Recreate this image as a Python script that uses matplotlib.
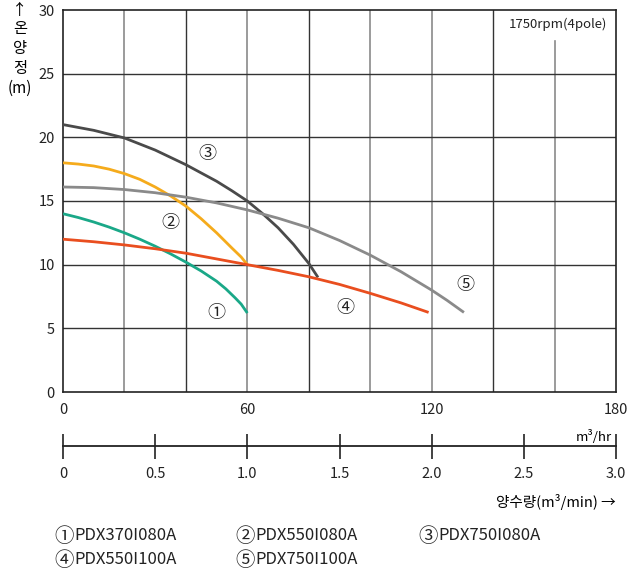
import matplotlib
matplotlib.use("Agg")
import matplotlib.pyplot as plt

plt.rcParams['font.family'] = ['Noto Sans CJK KR', 'DejaVu Sans']

# pump curves, flow in m3/hr, head in m
q1 = [0, 5, 10, 15, 20, 25, 30, 35, 40, 45, 50, 53, 56, 58, 60]
h1 = [14.0, 13.7, 13.35, 12.95, 12.5, 12.0, 11.45, 10.85, 10.2, 9.5, 8.7, 8.1, 7.4, 6.9, 6.2]
q2 = [0, 5, 10, 15, 20, 25, 30, 35, 40, 45, 50, 55, 58, 60]
h2 = [18.0, 17.9, 17.75, 17.5, 17.15, 16.7, 16.1, 15.4, 14.6, 13.6, 12.5, 11.3, 10.6, 10.0]
q3 = [0, 10, 20, 30, 40, 50, 55, 60, 65, 70, 75, 80, 83]
h3 = [21.0, 20.55, 19.95, 19.0, 17.85, 16.55, 15.8, 15.0, 14.0, 12.9, 11.6, 10.1, 9.0]
q4 = [0, 10, 20, 30, 40, 50, 60, 70, 80, 90, 100, 110, 119]
h4 = [12.0, 11.8, 11.55, 11.25, 10.9, 10.45, 10.0, 9.55, 9.05, 8.45, 7.75, 7.0, 6.25]
q5 = [0, 10, 20, 30, 40, 50, 60, 70, 80, 90, 100, 110, 120, 125, 130.5]
h5 = [16.1, 16.05, 15.9, 15.65, 15.3, 14.85, 14.3, 13.65, 12.9, 11.9, 10.75, 9.45, 8.0, 7.2, 6.25]

labels = ['①', '②', '③', '④', '⑤']
label_pos = [(50, 6.2), (35, 13.3), (47, 18.7), (92, 6.6), (131, 8.4)]
models = ['PDX370I080A', 'PDX550I080A', 'PDX750I080A',
          'PDX550I100A', 'PDX750I100A']
colors = ['#1aa888', '#f5ab1c', '#4a4a4a', '#e94e1f', '#8a8a8a']

fig = plt.figure(figsize=(6.37, 5.78), dpi=100)
ax = fig.add_axes([63/637, 186/578, 553/637, 382/578])

# grid
for x in [20, 60, 100, 120, 160]:
    ax.axvline(x, color='#8a8a8a', lw=1.2, zorder=1,
               ymax=(27.6/30 if x == 160 else 1))
for x in [40, 80, 140]:
    ax.axvline(x, color='#333333', lw=1.0, zorder=1)
for y in range(5, 30, 5):
    ax.axhline(y, color='#333333', lw=1.0, zorder=1)

for q, h, c in zip([q1, q2, q3, q4, q5], [h1, h2, h3, h4, h5], colors):
    ax.plot(q, h, color=c, lw=2, zorder=3, solid_capstyle='butt')

for lab, (x, y) in zip(labels, label_pos):
    ax.text(x, y, lab, fontsize=13, ha='center', va='center', color='#222222', zorder=4)

ax.text(177, 29.4, '1750rpm(4pole)', fontsize=9.5, ha='right', va='top', color='#222222')

ax.set_xlim(0, 180)
ax.set_ylim(0, 30)
ax.set_xticks([0, 60, 120, 180])
ax.set_yticks([0, 5, 10, 15, 20, 25, 30])
ax.tick_params(length=0, labelsize=10.5, pad=8, colors='#222222')
ax.tick_params(axis='y', pad=6)
for s in ax.spines.values():
    s.set_color('#222222')
    s.set_linewidth(1.2)

fig.text(20/637, 1 - 10/578, '↑', fontsize=11, ha='center', va='center')
for i, ch in enumerate(['온', '양', '정']):
    fig.text(20/637, 1 - (28 + i * 20)/578, ch, fontsize=11, ha='center', va='center')
fig.text(20/637, 1 - 88/578, '(m)', fontsize=11, ha='center', va='center')

# second flow scale in m3/min
ax2 = fig.add_axes([63/637, 132/578, 553/637, 0.001])
ax2.set_xlim(0, 3.0)
ax2.set_ylim(0, 1)
ax2.set_xticks([0, 0.5, 1.0, 1.5, 2.0, 2.5, 3.0])
ax2.set_xticklabels(['0', '0.5', '1.0', '1.5', '2.0', '2.5', '3.0'])
ax2.set_yticks([])
for k in ['top', 'left', 'right']:
    ax2.spines[k].set_visible(False)
ax2.spines['bottom'].set_linewidth(1.3)
ax2.spines['bottom'].set_color('#222222')
ax2.tick_params(axis='x', direction='inout', length=18, width=1.2, labelsize=10.5,
                pad=6, colors='#222222')
ax2.patch.set_visible(False)

fig.text(612/637, 1 - 437/578, 'm³/hr', fontsize=9.5, ha='right', va='center')
fig.text(616/637, 1 - 502/578, '양수량(m³/min) →', fontsize=10.5, ha='right', va='center')

# legend: circled number + model name
leg_x = [64, 245, 428]
leg_y = [536, 560]
for i, m in enumerate(models):
    x0 = leg_x[i % 3]
    y0 = 1 - leg_y[i // 3]/578
    fig.text(x0/637, y0, labels[i], fontsize=14, ha='center', va='center', color='#222222')
    fig.text((x0 + 10)/637, y0, m, fontsize=12, ha='left', va='center', color='#222222')

fig.savefig('out.png', dpi=100)
